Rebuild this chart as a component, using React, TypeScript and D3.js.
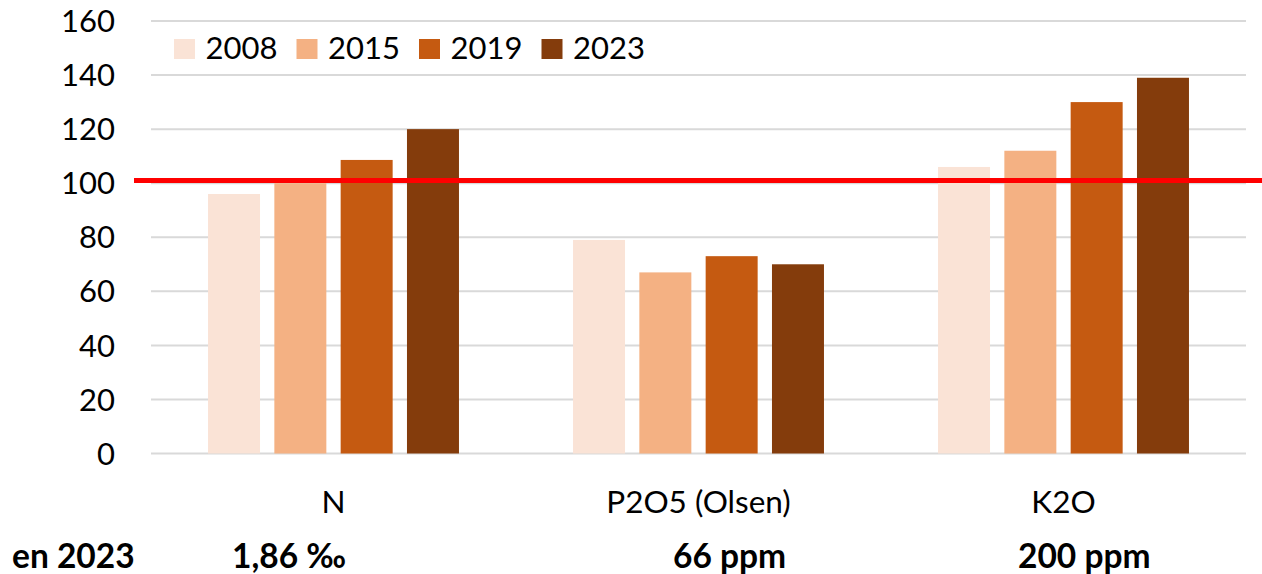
import React from "react";
import * as d3 from "d3";

// Soil nutrient indices by year (base 100 = reference level)
const categories = ["N", "P2O5 (Olsen)", "K2O"];
const years = ["2008", "2015", "2019", "2023"];
const values2008 = [96, 79, 106];
const values2015 = [100, 67, 112];
const values2019 = [108.6, 73, 130];
const values2023 = [120, 70, 139];
const seriesValues = [values2008, values2015, values2019, values2023];
const yTicks = [0, 20, 40, 60, 80, 100, 120, 140, 160];
const referenceValue = 101;
const rowTitle = "en 2023";
const levels2023 = ["1,86 ‰", "66 ppm", "200 ppm"];

const colors = ["#FAE3D6", "#F4B183", "#C55A11", "#843C0C"];
const FONT = "Lato, 'Open Sans', sans-serif";

const W = 1262;
const H = 574;
const plot = { left: 151, right: 1246, top: 21, bottom: 453.5 };
// Horizontal placement of the bold "en 2023" row
const levelStartX = [232, 673, 1018];

export default function App() {
  const y = d3.scaleLinear().domain([0, 160]).range([plot.bottom, plot.top]);
  const x0 = d3
    .scaleBand<string>()
    .domain(categories)
    .range([plot.left, plot.right])
    .paddingInner(0)
    .paddingOuter(0);
  const x1 = d3
    .scaleBand<string>()
    .domain(years)
    .range([0, x0.bandwidth()])
    .paddingInner(0.216)
    .paddingOuter(0.86);

  return (
    <svg
      width={W}
      height={H}
      style={{ position: "fixed", left: 0, top: 0, background: "#fff" }}
      fontFamily={FONT}
    >
      <rect width={W} height={H} fill="#fff" />
      {/* gridlines */}
      {yTicks.map((t) => (
        <line
          key={t}
          x1={plot.left}
          x2={plot.right}
          y1={y(t)}
          y2={y(t)}
          stroke="#D9D9D9"
          strokeWidth={2}
        />
      ))}
      {/* y tick labels */}
      {yTicks.map((t) => (
        <text
          key={"t" + t}
          x={115}
          y={y(t)}
          dy="0.36em"
          textAnchor="end"
          fontSize={31}
          fill="#000"
        >
          {t}
        </text>
      ))}
      {/* bars */}
      {categories.map((c, ci) => (
        <g key={c} transform={`translate(${x0(c)},0)`}>
          {years.map((yr, si) => {
            const v = seriesValues[si][ci];
            return (
              <rect
                key={yr}
                x={x1(yr)}
                y={y(v)}
                width={x1.bandwidth()}
                height={y(0) - y(v)}
                fill={colors[si]}
              />
            );
          })}
        </g>
      ))}
      {/* reference line */}
      <line
        x1={134}
        x2={W}
        y1={y(referenceValue)}
        y2={y(referenceValue)}
        stroke="#FF0000"
        strokeWidth={5}
      />
      {/* category labels */}
      {categories.map((c) => (
        <text
          key={"c" + c}
          x={(x0(c) as number) + x0.bandwidth() / 2}
          y={513}
          textAnchor="middle"
          fontSize={31.5}
          fill="#000"
        >
          {c}
        </text>
      ))}
      {/* legend */}
      {years.map((yr, i) => (
        <g key={"l" + yr} transform={`translate(${174 + i * 122.5},39)`}>
          <rect width={21} height={20} fill={colors[i]} />
          <text x={31.5} y={20} fontSize={31} fill="#000">
            {yr}
          </text>
        </g>
      ))}
      {/* 2023 levels row */}
      <text x={12} y={568} fontSize={33.5} fontWeight="bold" fill="#000">
        {rowTitle}
      </text>
      {levels2023.map((s, i) => (
        <text
          key={"v" + i}
          x={levelStartX[i]}
          y={568}
          fontSize={33.5}
          fontWeight="bold"
          fill="#000"
        >
          {s}
        </text>
      ))}
    </svg>
  );
}
